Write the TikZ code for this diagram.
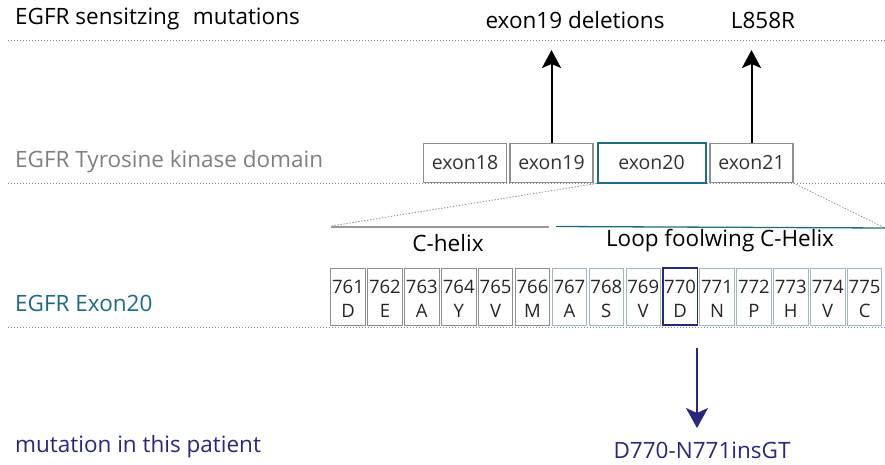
\documentclass[tikz,border=0pt]{standalone}
\usepackage{fontspec}
\setmainfont{Open Sans}
\usetikzlibrary{arrows.meta}
\definecolor{tealc}{HTML}{1E6C84}
\definecolor{navyc}{HTML}{28287F}
\definecolor{greytext}{HTML}{808080}
\definecolor{boxgrey}{HTML}{8E8E8E}
\definecolor{boxblue}{HTML}{A3B9C2}
\definecolor{dotgrey}{HTML}{8A8A8A}
\tikzset{
  dotline/.style={dotgrey, line width=0.8pt, dash pattern=on 1.3pt off 1.7pt},
  bigtext/.style={font=\fontsize{22.5}{27}\selectfont, inner sep=0pt},
  exonbox/.style={draw=boxgrey, line width=1.2pt, minimum width=83pt, minimum height=39pt,
    inner sep=0pt, font=\fontsize{19.5}{23}\selectfont, text=black!80},
  resbox/.style={draw=boxgrey, line width=0.9pt, minimum width=34.5pt, minimum height=57pt,
    inner sep=0pt},
  restext/.style={inner sep=0pt, font=\fontsize{18.5}{22}\selectfont, text=black!85},
  blackarrow/.style={line width=2pt, -{Stealth[length=18pt,width=19pt,inset=4pt]}},
  navyarrow/.style={navyc, line width=1.8pt, -{Stealth[length=20pt,width=22pt,inset=5pt]}},
}
\begin{document}
\begin{tikzpicture}[x=1pt,y=-1pt]
\useasboundingbox[fill=white] (0,0) rectangle (885,465);

% row labels
\node[bigtext, anchor=west] (sens) at (15,19) {EGFR sensitzing\hspace{0.6em}mutations};
\node[bigtext, anchor=west, text=greytext] (tkd) at (15,162) {EGFR Tyrosine kinase domain};
\node[bigtext, anchor=west, text=tealc] (ex20lbl) at (15,303) {EGFR Exon20};
\node[bigtext, anchor=west, text=navyc] (pat) at (15,447) {mutation in this patient};

% dotted row separators
\coordinate (l1a) at (8,40);  \coordinate (l1b) at (885,40);
\coordinate (l2a) at (8,183); \coordinate (l2b) at (885,183);
\coordinate (l3a) at (8,327); \coordinate (l3b) at (885,327);
\draw[dotline] (l1a) -- (l1b);
\draw[dotline] (l2a) -- (l2b);
\draw[dotline, color=tealc!70] (l3a) -- (l3b);

% sensitizing mutations
\node[bigtext] (del19) at (575,20) {exon19 deletions};
\node[bigtext] (l858) at (763,20) {L858R};

% kinase domain exons
\node[exonbox] (e18) at (465,163) {exon18};
\node[exonbox] (e19) at (551.5,163) {exon19};
\node[exonbox, draw=tealc, line width=2pt, minimum width=108pt] (e20) at (651.5,163) {exon20};
\node[exonbox] (e21) at (751.5,163) {exon21};

\coordinate (t19) at (551.5,50);
\coordinate (t21) at (751.5,50);
\draw[blackarrow] (e19.north) -- (t19);
\draw[blackarrow] (e21.north) -- (t21);

% zoom into exon20
\coordinate (zl) at (331,226);
\coordinate (zr) at (885,228);
\draw[dotline] (e20.south west) -- (zl);
\draw[dotline] (e21.south east) -- (zr);

\coordinate (ch1) at (331,227); \coordinate (ch2) at (549,227);
\coordinate (lp1) at (556,226.5); \coordinate (lp2) at (885,228);
\draw[boxgrey!90, line width=1.5pt] (ch1) -- (ch2);
\draw[tealc, line width=1.3pt] (lp1) -- (lp2);
\node[bigtext] (chl) at (448,243) {C-helix};
\node[bigtext] (lpl) at (720,241) {Loop foolwing C-Helix};

% exon20 residues: box, position number and amino acid
\foreach \n/\aa [count=\i from 0] in {761/D,762/E,763/A,764/Y,765/V,766/M,767/A,768/S,769/V,770/D,771/N,772/P,773/H,774/V,775/C}{
  \ifnum\i<6
    \node[resbox] (r\n) at ({348+\i*36.9},296.5) {};
  \else
    \node[resbox, draw=boxblue] (r\n) at ({348+\i*36.9},296.5) {};
  \fi
  \node[restext] (n\n) at ([yshift=9.5pt]r\n.center) {\n};
  \node[restext] (a\n) at ([yshift=-14pt]r\n.center) {\aa};
}
\node[resbox, draw=navyc, line width=1.3pt] at (r770) {};

% patient mutation
\node[bigtext, text=navyc] (mut) at (702,450) {D770-N771insGT};
\coordinate (ms) at (697,348);
\coordinate (me) at (697,428);
\draw[navyarrow] (ms) -- (me);
\end{tikzpicture}
\end{document}
